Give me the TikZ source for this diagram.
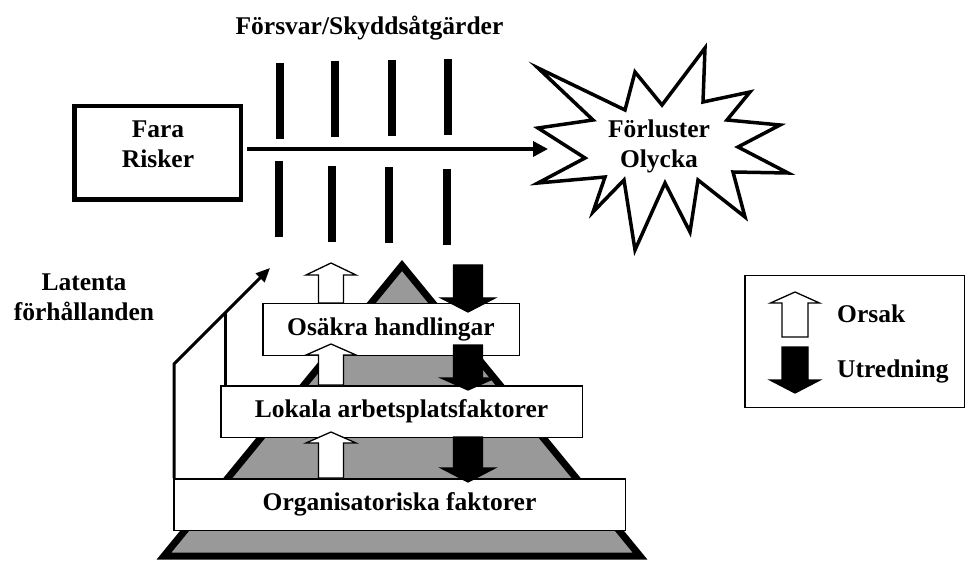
\documentclass[tikz,border=0pt]{standalone}
\usepackage{fontspec}
\setmainfont{Liberation Serif}
\usetikzlibrary{arrows.meta}
\definecolor{pyrgray}{gray}{0.6}
% block arrow: fill, centre x, tail y, head-base y, tip y, half shaft, half head
\newcommand\blockarrow[7]{%
  \draw[blockline, fill=#1] (#2-#6,#3) -- (#2-#6,#4) -- (#2-#7,#4) -- (#2,#5)
    -- (#2+#7,#4) -- (#2+#6,#4) -- (#2+#6,#3) -- cycle;}
\begin{document}
\begin{tikzpicture}[x=1pt, y=-1pt,
  font=\bfseries\fontsize{25.5}{30}\selectfont,
  lbl/.style={inner sep=0pt, align=center},
  layer/.style={draw, line width=1.5pt, fill=white, inner sep=0pt},
  bar/.style={line width=8pt},
  link/.style={line width=3pt, line join=miter},
  blockline/.style={line width=1.3pt, line join=miter},
]
\useasboundingbox (0,0) rectangle (969,561);

% heading over the barriers
\node[lbl, anchor=base] (defence) at (369.5,35) {Försvar/Skyddsåtgärder};

% hazard source (two-line labels sit on the baseline of their last line)
\node[draw, line width=4.5pt, minimum width=166.5pt, minimum height=93.5pt] (hazard) at (157.5,153) {};
\node[lbl, anchor=base] (hazardtxt) at (158,168) {Fara\\Risker};

% barriers above and below the trajectory
\draw[bar] (280,63) -- (280,139);
\draw[bar] (335,61) -- (335,137);
\draw[bar] (392,60) -- (392,136);
\draw[bar] (448,59) -- (448,135);
\draw[bar] (279,161) -- (279,237);
\draw[bar] (332,166) -- (332,242);
\draw[bar] (389,167) -- (389,243);
\draw[bar] (447,169) -- (447,245);

% loss burst
\draw[line width=3.5pt, line join=miter, fill=white]
  (538,68) -- (625,110) -- (635,72) -- (662,105) -- (705,48) -- (703,102)
  -- (750,92) -- (727,120) -- (780,125) -- (738,147) -- (788,173) -- (733,172)
  -- (745,217) -- (698,180) -- (690,232) -- (665,183) -- (635,250) -- (624,180)
  -- (593,212) -- (605,177) -- (538,183) -- (585,158) -- (538,128) -- (593,120)
  -- cycle;
\node[lbl, anchor=base] (losstxt) at (659,168) {Förluster\\Olycka};
\coordinate (lossrim) at (548,149);

% accident trajectory
\draw[line width=3.5pt, -{Triangle[length=15pt,width=15pt]}]
  ([xshift=4pt]hazard.east |- lossrim) -- (lossrim);

% pyramid
\draw[line width=7pt, fill=pyrgray, line join=miter]
  (402,265.5) -- (640,556) -- (164,556) -- cycle;

% layers
\node[layer, minimum width=256.5pt, minimum height=51.5pt] (unsafe) at (391,329.5) {Osäkra handlingar};
\node[layer, minimum width=361.5pt, minimum height=51.5pt] (local) at (401.5,411.5) {Lokala arbetsplatsfaktorer};
\node[layer, minimum width=451.5pt, minimum height=51.5pt] (org) at (399.5,504.5) {Organisatoriska faktorer};

% latent conditions
\node[lbl, anchor=base] (latent) at (84,320) {Latenta\\förhållanden};
\coordinate (bend) at (174,364);
\coordinate (latenttip) at (270,268);
\coordinate (merge) at (225,313);
\draw[link, -{Triangle[length=14pt,width=12pt]}] (bend |- org.north) -- (bend) -- (latenttip);
\draw[link] (merge |- local.north) -- (merge);

% causation (up) and investigation (down)
\blockarrow{white}{331}{303}{275}{263}{12.5}{25}
\blockarrow{white}{331}{385}{355}{344}{12.5}{25}
\blockarrow{white}{331}{478}{443}{432}{12.5}{25}
\blockarrow{black}{468}{265}{298}{312}{14.5}{27}
\blockarrow{black}{468}{345}{378}{390}{14.5}{27}
\blockarrow{black}{468}{437}{468}{482}{14.5}{27}

% legend
\node[layer, minimum width=219.5pt, minimum height=131.5pt] (legend) at (854.5,341.5) {};
\blockarrow{white}{795}{337}{303}{292}{13}{24.5}
\blockarrow{black}{795}{347}{380}{393}{13}{25}
\node[lbl, anchor=base west] (cause) at (837,323) {Orsak};
\node[lbl, anchor=base west] (inquiry) at (837,377) {Utredning};
\end{tikzpicture}
\end{document}
